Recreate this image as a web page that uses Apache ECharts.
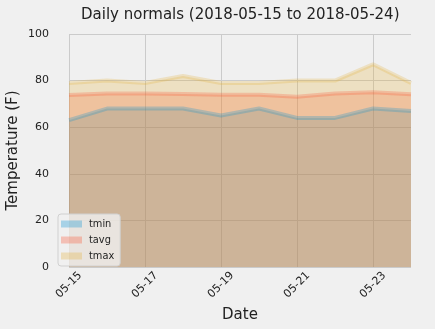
<!DOCTYPE html>
<html><head><meta charset="utf-8">
<script src="https://cdn.jsdelivr.net/npm/echarts@6/dist/echarts.min.js"></script>
<style>html,body{margin:0;padding:0;background:#f0f0f0;}#c{width:435px;height:329px;}</style>
</head><body><div id="c"></div>
<script>
var dates = ['05-15','05-16','05-17','05-18','05-19','05-20','05-21','05-22','05-23','05-24'];
var tmin = [63, 68, 68, 68, 65, 68, 64, 64, 68, 67];
var tavg = [73.8, 74.5, 74.5, 74.2, 73.9, 73.9, 73.1, 74.5, 75.0, 74.1];
var tmax = [79, 80, 79, 82, 79, 79, 80, 80, 87, 79];
var yTicks = [0, 20, 40, 60, 80, 100];

var A = 0.25;
function ser(name, data, rgb) {
  return {
    name: name, type: 'line', data: data, symbol: 'none',
    lineStyle: {width: 4, color: 'rgb(' + rgb + ')', opacity: A},
    itemStyle: {color: 'rgb(' + rgb + ')'},
    areaStyle: {color: 'rgb(' + rgb + ')', opacity: A, origin: 'start'}
  };
}
var chart = echarts.init(document.getElementById('c'), null, {renderer: 'canvas'});
var font = 'DejaVu Sans';
chart.setOption({
  backgroundColor: '#f0f0f0',
  animation: false,
  textStyle: {fontFamily: font},
  title: {
    text: 'Daily normals (2018-05-15 to 2018-05-24)',
    left: 76, top: 3,
    textStyle: {fontFamily: font, fontSize: 15, fontWeight: 'normal', color: '#222'}
  },
  grid: {left: 69, right: 24, top: 34, bottom: 62, containLabel: false, outerBoundsMode: 'none'},
  legend: {
    left: 58, top: 214, orient: 'vertical',
    icon: 'rect', itemWidth: 21, itemHeight: 7, itemGap: 6,
    padding: [5, 6, 5, 3],
    backgroundColor: 'rgba(240,240,240,0.8)',
    borderColor: '#d0d0d0', borderWidth: 1, borderRadius: 3,
    textStyle: {fontFamily: font, fontSize: 9.8, color: '#222', padding: [0, 0, 0, 2]},
    data: [
      {name: 'tmin', itemStyle: {color: 'rgba(0,143,213,0.3)'}},
      {name: 'tavg', itemStyle: {color: 'rgba(252,79,48,0.3)'}},
      {name: 'tmax', itemStyle: {color: 'rgba(229,174,56,0.3)'}}
    ]
  },
  xAxis: {
    type: 'category', data: dates, boundaryGap: false,
    name: 'Date', nameLocation: 'middle', nameGap: 37,
    nameTextStyle: {fontFamily: font, fontSize: 15, color: '#222'},
    axisLine: {show: false}, axisTick: {show: false},
    axisLabel: {interval: 1, rotate: 45, align: 'center', verticalAlign: 'middle',
      fontFamily: font, fontSize: 11, color: '#222', margin: 18},
    splitLine: {show: true, interval: 1, lineStyle: {color: '#cbcbcb', width: 1}}
  },
  yAxis: {
    type: 'value', min: yTicks[0], max: yTicks[yTicks.length - 1], interval: 20,
    name: 'Temperature (F)', nameLocation: 'middle', nameGap: 48, nameMoveOverlap: false,
    nameTextStyle: {fontFamily: font, fontSize: 15, color: '#222'},
    axisLine: {show: false}, axisTick: {show: false},
    axisLabel: {fontFamily: font, fontSize: 11, color: '#222', margin: 20},
    splitLine: {show: true, lineStyle: {color: '#cbcbcb', width: 1}}
  },
  series: [
    ser('tmin', tmin, '0,143,213'),
    ser('tavg', tavg, '252,79,48'),
    ser('tmax', tmax, '229,174,56')
  ]
});
</script></body></html>
